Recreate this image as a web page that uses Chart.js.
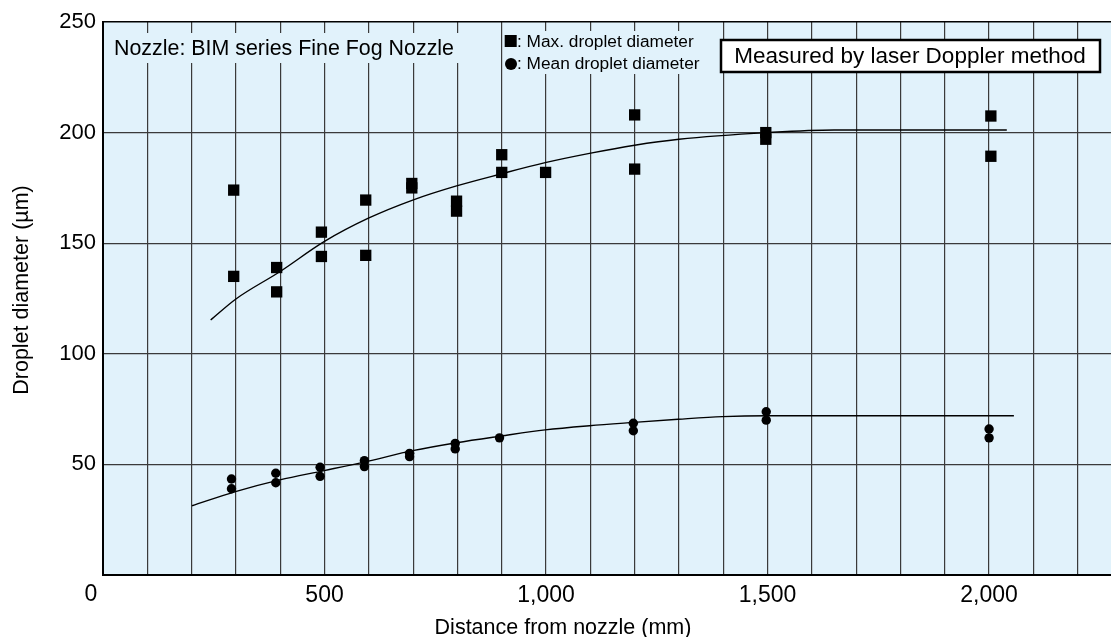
<!DOCTYPE html>
<html>
<head>
<meta charset="utf-8">
<script src="https://cdn.jsdelivr.net/npm/chart.js@4.4.1/dist/chart.umd.min.js"></script>
<style>
  html, body { margin: 0; padding: 0; background: #fff; overflow: hidden; }
  #wrap { width: 1111px; height: 637px; overflow: hidden; }
</style>
</head>
<body>
<div id="wrap"><canvas id="chart" width="1130" height="637"></canvas></div>
<script>
const FONT = "'Liberation Sans', Arial, Helvetica, sans-serif";

// measured points
const maxDist  = [295, 295, 392, 392, 493, 493, 593, 593, 697, 697, 798, 798, 900, 900, 999, 1200, 1200, 1496, 1496, 2004, 2004];
const maxDiam  = [174, 135, 139, 128, 155, 144, 169.5, 144.5, 177, 175, 169, 164.5, 190, 182, 182, 208, 183.5, 200, 197, 207.5, 189.3];
const meanDist = [290, 290, 390, 390, 490, 490, 590, 590, 692, 692, 795, 795, 895, 1197, 1197, 1497, 1497, 2000, 2000];
const meanDiam = [43.4, 39, 46, 41.7, 48.7, 44.6, 51.7, 49, 55, 53.5, 59.5, 57, 62, 68.6, 65.2, 73.8, 70, 66, 62];

// trend curves, traced point by point
const maxFitDist  = [243, 300, 399, 499, 599, 699, 798, 898, 998, 1098, 1200, 1300, 1500, 1650, 2040];
const maxFitDiam  = [115.3, 124.8, 137.1, 150.7, 161.3, 169.5, 175.9, 181.3, 186.4, 190.6, 194.3, 197, 200, 201.2, 201.2];
const meanFitDist = [201, 299, 399, 499, 599, 699, 798, 898, 998, 1098, 1198, 1298, 1398, 1498, 2056];
const meanFitDiam = [31.3, 37.7, 43, 47.2, 51.5, 56.2, 59.8, 62.8, 65.6, 67.5, 69, 70.4, 71.6, 72, 72];

// tick labels
const xTickValues = [500, 1000, 1500, 2000];
const xTickLabels = ['500', '1,000', '1,500', '2,000'];
const yTickValues = [50, 100, 150, 200, 250];

const pts = (xs, ys) => xs.map((v, i) => ({ x: v, y: ys[i] }));

// background, notes, legend, axis titles
const decor = {
    id: 'decor',
    beforeDraw(chart) {
        const { ctx, chartArea: a } = chart;
        ctx.save();
        ctx.fillStyle = '#e1f2fb';
        ctx.fillRect(a.left, a.top, a.right - a.left, a.bottom - a.top);
        ctx.restore();
    },
    afterDraw(chart) {
        const { ctx, chartArea: a } = chart;
        ctx.save();
        ctx.textBaseline = 'middle';

        // nozzle note
        ctx.fillStyle = '#e1f2fb';
        ctx.fillRect(a.left + 5, 33, 352, 30);
        ctx.fillStyle = '#000';
        ctx.font = `21.4px ${FONT}`;
        ctx.textAlign = 'left';
        ctx.fillText('Nozzle: BIM series Fine Fog Nozzle', a.left + 11, 49);

        // legend
        ctx.fillStyle = '#e1f2fb';
        ctx.fillRect(503, 31, 206, 43);
        ctx.fillStyle = '#000';
        ctx.fillRect(504.7, 35, 12, 12);
        ctx.beginPath(); ctx.arc(511, 64, 6, 0, Math.PI * 2); ctx.fill();
        ctx.font = `17.3px ${FONT}`;
        ctx.fillText(': Max. droplet diameter', 517, 42);
        ctx.fillText(': Mean droplet diameter', 517, 64);

        // method box
        ctx.fillStyle = '#fff';
        ctx.fillRect(721, 40, 379, 32);
        ctx.strokeStyle = '#000';
        ctx.lineWidth = 2.5;
        ctx.strokeRect(721, 40, 379, 32);
        ctx.fillStyle = '#000';
        ctx.font = `22.5px ${FONT}`;
        ctx.textAlign = 'center';
        ctx.fillText('Measured by laser Doppler method', 910, 57);

        // corner zero + axis titles
        ctx.font = `23px ${FONT}`;
        ctx.fillText('0', a.left - 12, 595);
        ctx.font = `21.5px ${FONT}`;
        ctx.fillText('Distance from nozzle (mm)', 563, 628);
        ctx.translate(22, 290);
        ctx.rotate(-Math.PI / 2);
        ctx.fillText('Droplet diameter (\u00b5m)', 0, 0);
        ctx.restore();
    }
};

new Chart(document.getElementById('chart'), {
    type: 'scatter',
    data: {
        datasets: [
            {
                label: 'Max fit', data: pts(maxFitDist, maxFitDiam), showLine: true,
                borderColor: '#000', borderWidth: 1.4, pointRadius: 0,
                cubicInterpolationMode: 'monotone', order: 3
            },
            {
                label: 'Mean fit', data: pts(meanFitDist, meanFitDiam), showLine: true,
                borderColor: '#000', borderWidth: 1.4, pointRadius: 0,
                cubicInterpolationMode: 'monotone', order: 4
            },
            {
                label: 'Max. droplet diameter', data: pts(maxDist, maxDiam),
                pointStyle: 'rect', pointRadius: 8, backgroundColor: '#000', borderWidth: 0, order: 1
            },
            {
                label: 'Mean droplet diameter', data: pts(meanDist, meanDiam),
                pointStyle: 'circle', pointRadius: 4.7, backgroundColor: '#000', borderWidth: 0, order: 2
            }
        ]
    },
    options: {
        responsive: false,
        animation: false,
        devicePixelRatio: 1,
        layout: { padding: { top: 22, left: 0, right: 0, bottom: 0 } },
        plugins: { legend: { display: false }, tooltip: { enabled: false } },
        scales: {
            x: {
                type: 'linear', min: 0, max: 2300, bounds: 'data',
                afterFit: s => { s.height = 62; s.paddingLeft = 0; s.paddingRight = 0; },
                grid: { color: '#3a3a3a', lineWidth: 1.2, drawTicks: false },
                border: { color: '#000', width: 2 },
                ticks: {
                    stepSize: 100, autoSkip: false,
                    maxRotation: 0, minRotation: 0, padding: 7, color: '#000',
                    font: { family: FONT, size: 23 },
                    callback: v => { const i = xTickValues.indexOf(v); return i >= 0 ? xTickLabels[i] : ''; }
                }
            },
            y: {
                min: 0, max: 250,
                afterFit: s => { s.width = 103; },
                grid: {
                    color: c => c.tick && c.tick.value === 250 ? '#000' : '#3a3a3a',
                    lineWidth: c => c.tick && c.tick.value === 250 ? 1.6 : 1.2,
                    drawTicks: false
                },
                border: { color: '#000', width: 2 },
                ticks: {
                    stepSize: 50, padding: 7, color: '#000',
                    font: { family: FONT, size: 22 },
                    callback: v => yTickValues.includes(v) ? String(v) : ''
                }
            }
        }
    },
    plugins: [decor]
});
</script>
</body>
</html>
